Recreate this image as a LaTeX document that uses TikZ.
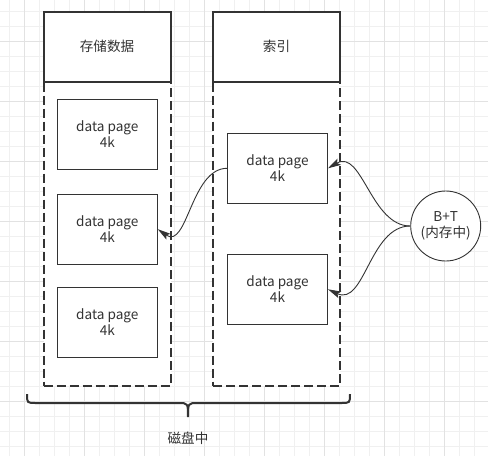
\documentclass[tikz,border=0pt]{standalone}
\usepackage{fontspec}
\setmainfont{Noto Sans CJK SC}
\usetikzlibrary{arrows.meta}
\definecolor{inkgray}{HTML}{333333}
\definecolor{gridminor}{HTML}{F0F0F0}
\definecolor{gridmajor}{HTML}{E2E2E2}

\begin{document}
\begin{tikzpicture}[x=1pt, y=-1pt,
  label_text/.style={text=inkgray, font=\fontsize{13.6}{16}\selectfont, align=center},
  header/.style={label_text, draw=inkgray, line width=2pt, fill=white, minimum width=127pt, minimum height=70pt},
  area/.style={draw=inkgray, line width=2pt, dash pattern=on 9pt off 4pt, fill=white, minimum width=127pt, minimum height=304pt},
  page/.style={label_text, draw=inkgray, line width=0.9pt, fill=white, minimum width=100pt, minimum height=70pt},
  link/.style={draw=inkgray, line width=0.9pt, -{Stealth[length=13pt, width=7pt, inset=2.5pt]}}]

\useasboundingbox (0,0) rectangle (488,456);
\fill[white] (0,0) rectangle (488,456);

% background grid
\foreach \gx in {9.3,24.3,...,480} \draw[gridminor, line width=0.8pt] (\gx,0) -- (\gx,456);
\foreach \gy in {11,26,...,450} \draw[gridminor, line width=0.8pt] (0,\gy) -- (488,\gy);
\foreach \gx in {24.3,84.3,...,480} \draw[gridmajor, line width=0.8pt] (\gx,0) -- (\gx,456);
\foreach \gy in {41,101,...,450} \draw[gridmajor, line width=0.8pt] (0,\gy) -- (488,\gy);

% data column
\node[area] (data_area) at (107,233.7) {};
\node[header] (data_header) at (107,46.7) {存储数据};
\node[page] (data_page_a) at (107.3,134.3) {data page\\4k};
\node[page] (data_page_b) at (107.3,229.2) {data page\\4k};
\node[page] (data_page_c) at (107.3,322.2) {data page\\4k};

% index column
\node[area] (index_area) at (276.5,233.7) {};
\node[header] (index_header) at (276.5,46.7) {索引};
\node[page] (index_page_a) at (277.5,168.3) {data page\\4k};
\node[page] (index_page_b) at (277.5,289.3) {data page\\4k};

% b+ tree in memory
\node[label_text, draw=inkgray, line width=0.9pt, fill=white, circle, minimum size=70pt, inner sep=0pt] (btree) at (445.7,226) {B+T\\(内存中)};

\draw[link] (index_page_a.west) to[out=180, in=-35] (data_page_b.east);
\draw[link] (btree.west) to[out=180, in=30] (index_page_a.east);
\draw[link] (btree.west) to[out=180, in=-25] (index_page_b.east);

% disk brace
\draw[draw=inkgray, line width=2pt] (27,394) .. controls (27,403) .. (36,403) -- (178,403)
  .. controls (188,403) .. (188,417) .. controls (188,403) .. (198,403) -- (341,403)
  .. controls (350,403) .. (350,394);
\node[label_text] (disk_label) at (188,438) {磁盘中};

\end{tikzpicture}
\end{document}
